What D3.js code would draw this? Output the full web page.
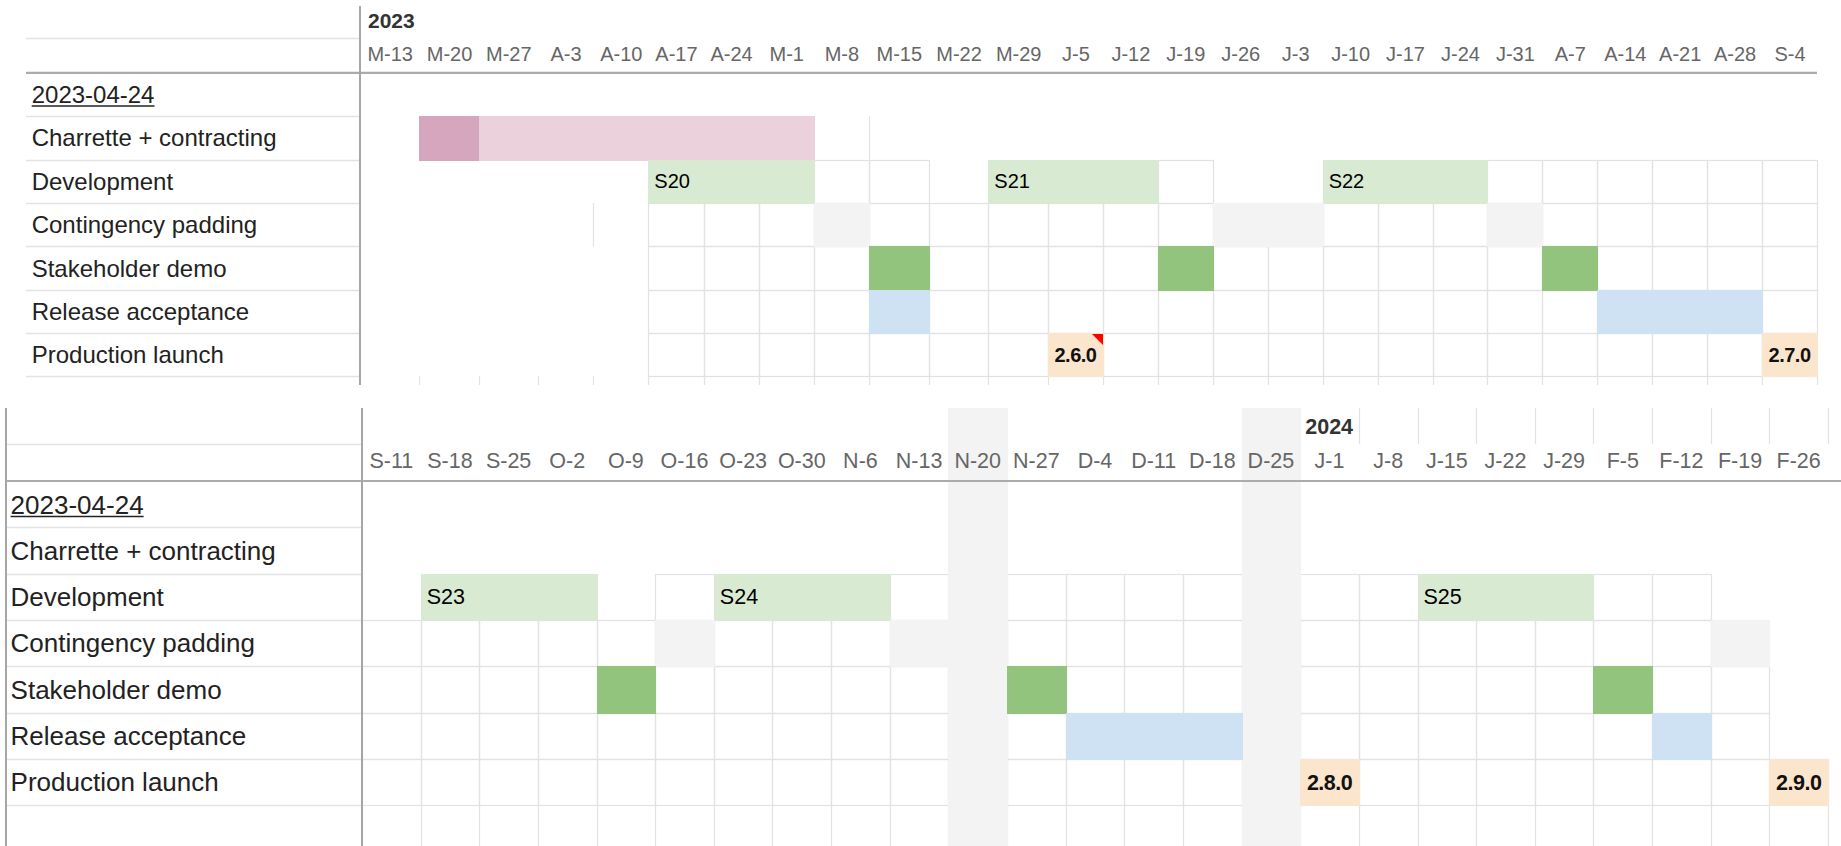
<!DOCTYPE html>
<html><head><meta charset="utf-8">
<script src="https://cdn.jsdelivr.net/npm/d3@7"></script>
<style>
html,body{margin:0;padding:0;background:#fff;}
svg{display:block;font-family:"Liberation Sans", Arial, Helvetica, sans-serif;}
</style></head><body>
<svg id="chart" width="1841" height="846"></svg>
<script>
// ---------------- DATA ----------------
const rowLabels = ["2023-04-24", "Charrette + contracting", "Development", "Contingency padding",
  "Stakeholder demo", "Release acceptance", "Production launch"];

const topWeeks = ["M-13","M-20","M-27","A-3","A-10","A-17","A-24","M-1","M-8","M-15","M-22","M-29",
  "J-5","J-12","J-19","J-26","J-3","J-10","J-17","J-24","J-31","A-7","A-14","A-21","A-28","S-4"];
const bottomWeeks = ["S-11","S-18","S-25","O-2","O-9","O-16","O-23","O-30","N-6","N-13","N-20","N-27",
  "D-4","D-11","D-18","D-25","J-1","J-8","J-15","J-22","J-29","F-5","F-12","F-19","F-26"];

const topYear = ["2023", "M-13"];
const bottomYear = ["2024", "J-1"];

// [start, end, tone]
const topCharrette = [["M-20","M-20","strong"], ["M-27","M-1","soft"]];
const bottomCharrette = [];

// [name, start, end]
const topSprints = [["S20","A-17","M-1"], ["S21","M-29","J-12"], ["S22","J-10","J-24"]];
const bottomSprints = [["S23","S-18","O-2"], ["S24","O-23","N-6"], ["S25","J-15","J-29"]];

const topContingency = [["M-8","M-8"], ["J-26","J-3"], ["J-31","J-31"]];
const bottomContingency = [["O-16","O-16"], ["N-13","N-13"], ["F-19","F-19"]];

const topDemos = ["M-15","J-19","A-7"];
const bottomDemos = ["O-9","N-27","F-5"];

const topAcceptance = [["M-15","M-15"], ["A-14","A-28"]];
const bottomAcceptance = [["D-4","D-18"], ["F-12","F-12"]];

// [week, version, hasComment]
const topLaunches = [["J-5","2.6.0",true], ["S-4","2.7.0",false]];
const bottomLaunches = [["J-1","2.8.0",false], ["F-26","2.9.0",false]];

const topHolidays = [];
const bottomHolidays = ["N-20","D-25"];

// ---------------- STYLE ----------------
const C = {
  strongPink:"#d5a6bd", softPink:"#ead1dc", sprint:"#d9ead3", pad:"#f3f3f3",
  demo:"#93c47d", accept:"#cfe2f3", launch:"#fce5cd", note:"#ff0000",
  grid:"#e2e2e2", labelLine:"#e3e3e3", divider:"#a6a6a6", thick:"#ababab",
  text:"#222222", axis:"#666666", year:"#333333"
};

const svg = d3.select("#chart");

// ---------------- SCALES ----------------
const topEdge = d3.scaleLinear().domain([0,3,9,12,26]).range([360,538,869,1048,1817]);
const topIdx = new Map(topWeeks.map((w,i)=>[w,i]));
const topX0 = w => topEdge(topIdx.get(w));
const topX1 = w => topEdge(topIdx.get(w)+1);
const topCenters = d3.scaleOrdinal().domain(topWeeks)
  .range(topWeeks.map(w => (topX0(w)+topX1(w))/2));

const bottomBand = d3.scaleBand().domain(bottomWeeks).range([362,1828]).padding(0);
const botX0 = w => bottomBand(w);
const botX1 = w => bottomBand(w) + bottomBand.bandwidth();

const panels = [
  { weeks: topWeeks, x0: topX0, x1: topX1, axisScale: topCenters,
    edge: i => topEdge(i),
    y: d3.scaleLinear().domain([0,7]).range([72.8, 72.8 + 7*43.36]),
    top: 6, bottom: 385, yearY: 20, headerLineY: 37.6, colLabelY: 54,
    lineX0: 26, labelX: 31.7, dividerX: 360, thickX0: 26, thickX1: 1817, leftBorder: false,
    labelFont: 24, colFont: 20, sprintFont: 20, launchFont: 20, yearFont: 21, yearPad: 8,
    year: topYear, charrette: topCharrette, sprints: topSprints, pad: topContingency,
    demos: topDemos, accept: topAcceptance, launches: topLaunches, holidays: topHolidays,
    gridRuns: [[2,8,9],[2,14,14],[2,20,25],[3,5,25],[4,5,25],[5,5,25],[6,5,25]],
    extraV: [[3,4],[1,9]], yearRowEdges: null },
  { weeks: bottomWeeks, x0: botX0, x1: botX1, axisScale: bottomBand,
    edge: i => 362 + i*bottomBand.bandwidth(),
    y: d3.scaleLinear().domain([0,7]).range([481, 481 + 7*46.3]),
    top: 408, bottom: 846, yearY: 426, headerLineY: 444, colLabelY: 460,
    lineX0: 6, labelX: 10.6, dividerX: 362, thickX0: 6, thickX1: 1841, leftBorder: true,
    labelFont: 26, colFont: 21.5, sprintFont: 21.5, launchFont: 21.5, yearFont: 21.5, yearPad: 5,
    year: bottomYear, charrette: bottomCharrette, sprints: bottomSprints, pad: bottomContingency,
    demos: bottomDemos, accept: bottomAcceptance, launches: bottomLaunches, holidays: bottomHolidays,
    gridRuns: [[2,5,5],[2,9,9],[2,11,14],[2,16,17],[2,21,22],[3,0,23],[4,0,23],[5,0,23],[6,0,24]],
    extraV: [], yearRowEdges: [17,25] }
];

function crisp(v){ return Math.round(v) + 0.5; }

panels.forEach(p => {
  const g = svg.append("g");
  const rowH = p.y(1) - p.y(0);
  const n = p.weeks.length;

  // label column lines
  const labelLines = [p.headerLineY].concat(d3.range(1,8).map(r => p.y(r)));
  g.append("g").selectAll("line").data(labelLines).join("line")
    .attr("x1", p.lineX0).attr("x2", p.dividerX)
    .attr("y1", d => crisp(d)).attr("y2", d => crisp(d))
    .attr("stroke", C.labelLine).attr("stroke-width", 1.6);

  // grid cells
  const cells = [];
  p.gridRuns.forEach(([r,c0,c1]) => { for (let c=c0;c<=c1;c++) cells.push([r,c]); });
  const gridG = g.append("g").attr("fill","none").attr("stroke",C.grid).attr("stroke-width",1.2);
  gridG.selectAll("rect").data(cells).join("rect")
    .attr("x", d => crisp(p.edge(d[1])))
    .attr("y", d => crisp(p.y(d[0])))
    .attr("width", d => Math.round(p.edge(d[1]+1)) - Math.round(p.edge(d[1])))
    .attr("height", d => Math.round(p.y(d[0]+1)) - Math.round(p.y(d[0])));
  // extra vertical segments (left edge of a cell)
  gridG.selectAll("line.ev").data(p.extraV).join("line").attr("class","ev")
    .attr("x1", d => crisp(p.edge(d[1]))).attr("x2", d => crisp(p.edge(d[1])))
    .attr("y1", d => p.y(d[0])).attr("y2", d => p.y(d[0]+1));
  // partial last row verticals
  gridG.selectAll("line.pv").data(d3.range(1, n+1)).join("line").attr("class","pv")
    .attr("x1", d => crisp(p.edge(d))).attr("x2", d => crisp(p.edge(d)))
    .attr("y1", p.y(7)).attr("y2", p.bottom);
  // year row verticals
  if (p.yearRowEdges) {
    gridG.selectAll("line.yv").data(d3.range(p.yearRowEdges[0], p.yearRowEdges[1]+1)).join("line").attr("class","yv")
      .attr("x1", d => crisp(p.edge(d))).attr("x2", d => crisp(p.edge(d)))
      .attr("y1", p.top).attr("y2", p.headerLineY);
  }

  // fills
  const fills = [];
  p.holidays.forEach(w => fills.push({x0:p.x0(w), x1:p.x1(w), y0:p.top, y1:p.bottom, c:C.pad}));
  p.charrette.forEach(([s,e,t]) => fills.push({x0:p.x0(s), x1:p.x1(e), y0:p.y(1), y1:p.y(2), c: t==="strong"?C.strongPink:C.softPink}));
  p.sprints.forEach(([nm,s,e]) => fills.push({x0:p.x0(s), x1:p.x1(e), y0:p.y(2), y1:p.y(3), c:C.sprint}));
  p.pad.forEach(([s,e]) => fills.push({x0:p.x0(s), x1:p.x1(e), y0:p.y(3), y1:p.y(4), c:C.pad}));
  p.demos.forEach(w => fills.push({x0:p.x0(w), x1:p.x1(w), y0:p.y(4), y1:p.y(5), c:C.demo}));
  p.accept.forEach(([s,e]) => fills.push({x0:p.x0(s), x1:p.x1(e), y0:p.y(5), y1:p.y(6), c:C.accept}));
  p.launches.forEach(([w]) => fills.push({x0:p.x0(w), x1:p.x1(w), y0:p.y(6), y1:p.y(7), c:C.launch}));
  g.append("g").selectAll("rect").data(fills).join("rect")
    .attr("x", d => Math.round(d.x0)).attr("y", d => Math.round(d.y0))
    .attr("width", d => Math.round(d.x1) - Math.round(d.x0) + 1)
    .attr("height", d => Math.round(d.y1) - Math.round(d.y0) + 1)
    .attr("fill", d => d.c);

  // comment markers
  g.append("g").selectAll("path").data(p.launches.filter(d => d[2])).join("path")
    .attr("d", d => { const x = Math.round(p.x1(d[0])), y = Math.round(p.y(6)) + 1;
      return `M${x},${y} L${x-11},${y} L${x},${y+11} Z`; })
    .attr("fill", C.note);

  // header thick line
  g.append("line").attr("x1", p.thickX0).attr("x2", p.thickX1)
    .attr("y1", p.y(0)).attr("y2", p.y(0))
    .attr("stroke", C.thick).attr("stroke-width", 2.2);
  // divider
  g.append("line").attr("x1", p.dividerX).attr("x2", p.dividerX)
    .attr("y1", p.top).attr("y2", p.bottom)
    .attr("stroke", C.divider).attr("stroke-width", 2);
  if (p.leftBorder) {
    g.append("line").attr("x1", 6).attr("x2", 6).attr("y1", p.top).attr("y2", p.bottom)
      .attr("stroke", C.divider).attr("stroke-width", 2);
  }

  // row labels
  const lab = g.append("g").selectAll("text").data(rowLabels).join("text")
    .attr("x", p.labelX)
    .attr("y", (d,i) => p.y(i) + rowH/2 + p.labelFont*0.36)
    .attr("font-size", p.labelFont).attr("fill", C.text).text(d => d);
  lab.filter((d,i) => i === 0).each(function(){
    const len = this.getComputedTextLength();
    const yy = p.y(0) + rowH/2 + p.labelFont*0.36 + 3;
    g.append("line").attr("x1", p.labelX).attr("x2", p.labelX + len)
      .attr("y1", yy).attr("y2", yy).attr("stroke", C.text).attr("stroke-width", 1.5);
  });

  // week axis
  const ax = g.append("g").attr("transform", `translate(0,${p.colLabelY})`)
    .call(d3.axisTop(p.axisScale).tickSize(0).tickPadding(0));
  ax.select(".domain").remove();
  ax.selectAll("text").attr("y", 0).attr("dy", "0.36em")
    .attr("font-size", p.colFont).attr("fill", C.axis)
    .attr("font-family", '"Liberation Sans", Arial, sans-serif');
  ax.attr("font-size", null).attr("font-family", null);

  // year
  g.append("text").attr("x", p.x0(p.year[1]) + p.yearPad).attr("y", p.yearY + p.yearFont*0.36)
    .attr("font-size", p.yearFont).attr("font-weight", "bold").attr("fill", C.year).text(p.year[0]);

  // sprint labels
  g.append("g").selectAll("text").data(p.sprints).join("text")
    .attr("x", d => p.x0(d[1]) + 6)
    .attr("y", p.y(2) + rowH/2 + p.sprintFont*0.36)
    .attr("font-size", p.sprintFont).attr("fill", "#000").text(d => d[0]);

  // launch labels
  g.append("g").selectAll("text").data(p.launches).join("text")
    .attr("x", d => (p.x0(d[0]) + p.x1(d[0]))/2)
    .attr("y", p.y(6) + rowH/2 + p.launchFont*0.36)
    .attr("text-anchor", "middle").attr("font-weight", "bold")
    .attr("letter-spacing", -0.5)
    .attr("font-size", p.launchFont).attr("fill", "#111").text(d => d[1]);
});
</script>
</body></html>
